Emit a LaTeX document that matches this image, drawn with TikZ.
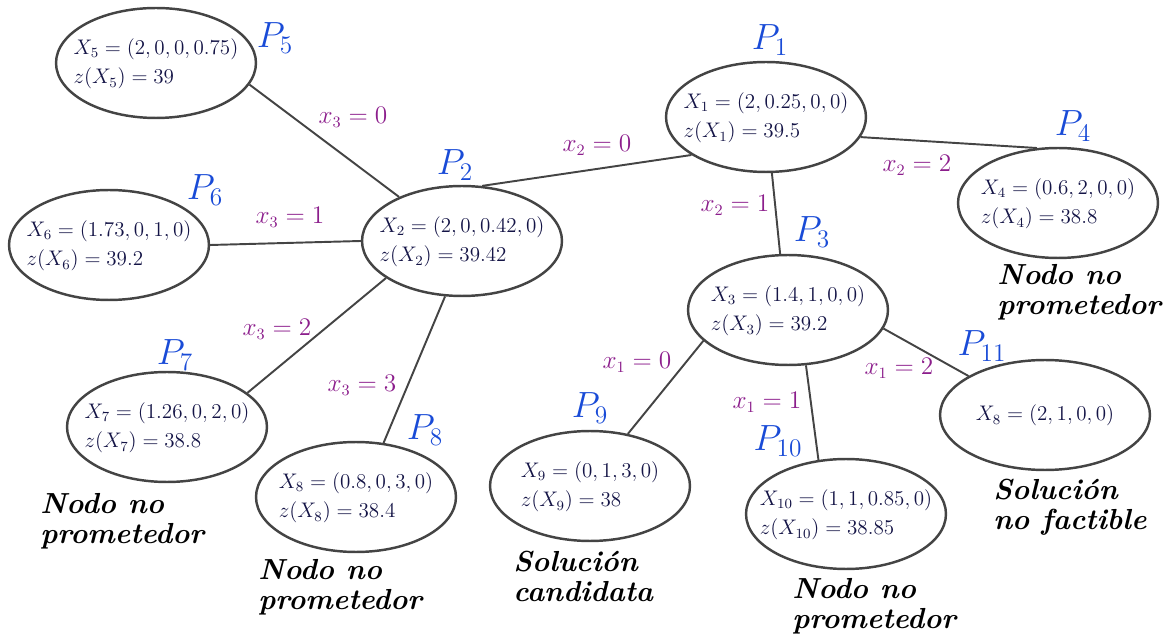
\documentclass[tikz,border=0pt]{standalone}
\usetikzlibrary{shapes.geometric}
\definecolor{azulP}{RGB}{25,75,215}
\definecolor{moradoX}{RGB}{140,30,140}
\definecolor{tinta}{RGB}{20,20,70}
\definecolor{gris}{RGB}{68,68,68}
\newcommand{\dosfilas}[2]{\raisebox{-3pt}[0pt][0pt]{\makebox[0pt]{$\begin{array}{@{}l@{}}#1\\#2\end{array}$}}}
\newcommand{\unafila}[1]{\raisebox{-3pt}[0pt][0pt]{\makebox[0pt]{$\begin{array}{@{}l@{}}#1\end{array}$}}}
\tikzset{
  estado/.style={ellipse, draw=gris, line width=1.4pt, minimum width=4cm,
    minimum height=2.2cm, inner sep=0pt, text=tinta,
    font=\fontsize{11.5}{17}\selectfont},
  etiqP/.style={text=azulP, font=\fontsize{21}{21}\selectfont, inner sep=0pt},
  rama/.style={text=moradoX, font=\fontsize{13.5}{14}\selectfont, inner sep=0pt},
  nota/.style={anchor=north west, align=left, inner sep=0pt,
    font=\fontsize{16.5}{17}\selectfont\bfseries\itshape},
  arista/.style={draw=gris, line width=1.1pt}
}
\begin{document}
\begin{tikzpicture}[x=0.02cm, y=-0.02cm]
    \useasboundingbox (0,0) rectangle (1166,634);

    % 1. Nodos
    \node[estado] (P1) at (766,117) {\dosfilas{X_1=(2,0.25,0,0)}{z(X_1)=39.5}};
    \node[estado] (P2) at (462,241) {\dosfilas{X_2=(2,0,0.42,0)}{z(X_2)=39.42}};
    \node[estado] (P3) at (788,310) {\dosfilas{X_3=(1.4,1,0,0)}{z(X_3)=39.2}};
    \node[estado] (P4) at (1058,203) {\dosfilas{X_4=(0.6,2,0,0)}{z(X_4)=38.8}};
    \node[estado] (P5) at (156,63) {\dosfilas{X_5=(2,0,0,0.75)}{z(X_5)=39}};
    \node[estado] (P6) at (109,245) {\dosfilas{X_6=(1.73,0,1,0)}{z(X_6)=39.2}};
    \node[estado] (P7) at (167,427) {\dosfilas{X_7=(1.26,0,2,0)}{z(X_7)=38.8}};
    \node[estado] (P8) at (356,497) {\dosfilas{X_8=(0.8,0,3,0)}{z(X_8)=38.4}};
    \node[estado] (P9) at (590,486) {\dosfilas{X_9=(0,1,3,0)}{z(X_9)=38}};
    \node[estado] (P10) at (846,514) {\dosfilas{X_{10}=(1,1,0.85,0)}{z(X_{10})=38.85}};
    \node[estado, minimum width=4.2cm] (P11) at (1045,415) {\unafila{X_8=(2,1,0,0)}};

    % 2. Nombres de los problemas
    \node[etiqP] (tP1) at (770,40) {$P_1$};
    \node[etiqP] (tP2) at (455,165) {$P_2$};
    \node[etiqP] (tP3) at (812,232) {$P_3$};
    \node[etiqP] (tP4) at (1073,126) {$P_4$};
    \node[etiqP] (tP5) at (275,38) {$P_5$};
    \node[etiqP] (tP6) at (205,190) {$P_6$};
    \node[etiqP] (tP7) at (175,355) {$P_7$};
    \node[etiqP] (tP8) at (425,430) {$P_8$};
    \node[etiqP] (tP9) at (590,408) {$P_9$};
    \node[etiqP] (tP10) at (778,441) {$P_{10}$};
    \node[etiqP] (tP11) at (982,346) {$P_{11}$};

    % 3. Ramas
    \draw[arista] (P2.70) -- (P1.207);
    \draw[arista] (P1.276) -- (P3.98);
    \draw[arista] (P1.348) -- (P4.111);
    \draw[arista] (P2.145) -- (P5.347);
    \draw[arista] (P2.180) -- (P6.0);
    \draw[arista] (P2.206) -- (P7.23);
    \draw[arista] (P2.253) -- (P8.63);
    \draw[arista] (P3.200) -- (P9.54);
    \draw[arista] (P3.288) -- (P10.117);
    \draw[arista] (P3.349) -- (P11.153);

    % 4. Etiquetas de las ramas
    \node[rama] (r12) at (597,145) {$x_2=0$};
    \node[rama] (r13) at (735,205) {$x_2=1$};
    \node[rama] (r14) at (917,165) {$x_2=2$};
    \node[rama] (r25) at (353,117) {$x_3=0$};
    \node[rama] (r26) at (290,217) {$x_3=1$};
    \node[rama] (r27) at (277,329) {$x_3=2$};
    \node[rama] (r28) at (362,385) {$x_3=3$};
    \node[rama] (r39) at (637,362) {$x_1=0$};
    \node[rama] (r310) at (767,402) {$x_1=1$};
    \node[rama] (r311) at (899,368) {$x_1=2$};

    % 5. Notas
    \node[nota] (n4) at (997,264) {Nodo no\\prometedor};
    \node[nota] (n7) at (40,493) {Nodo no\\prometedor};
    \node[nota] (n8) at (258,559) {Nodo no\\prometedor};
    \node[nota] (n9) at (513,551) {Soluci\'on\\candidata};
    \node[nota] (n10) at (792,578) {Nodo no\\prometedor};
    \node[nota] (n11) at (993,479) {Soluci\'on\\no factible};
\end{tikzpicture}
\end{document}
